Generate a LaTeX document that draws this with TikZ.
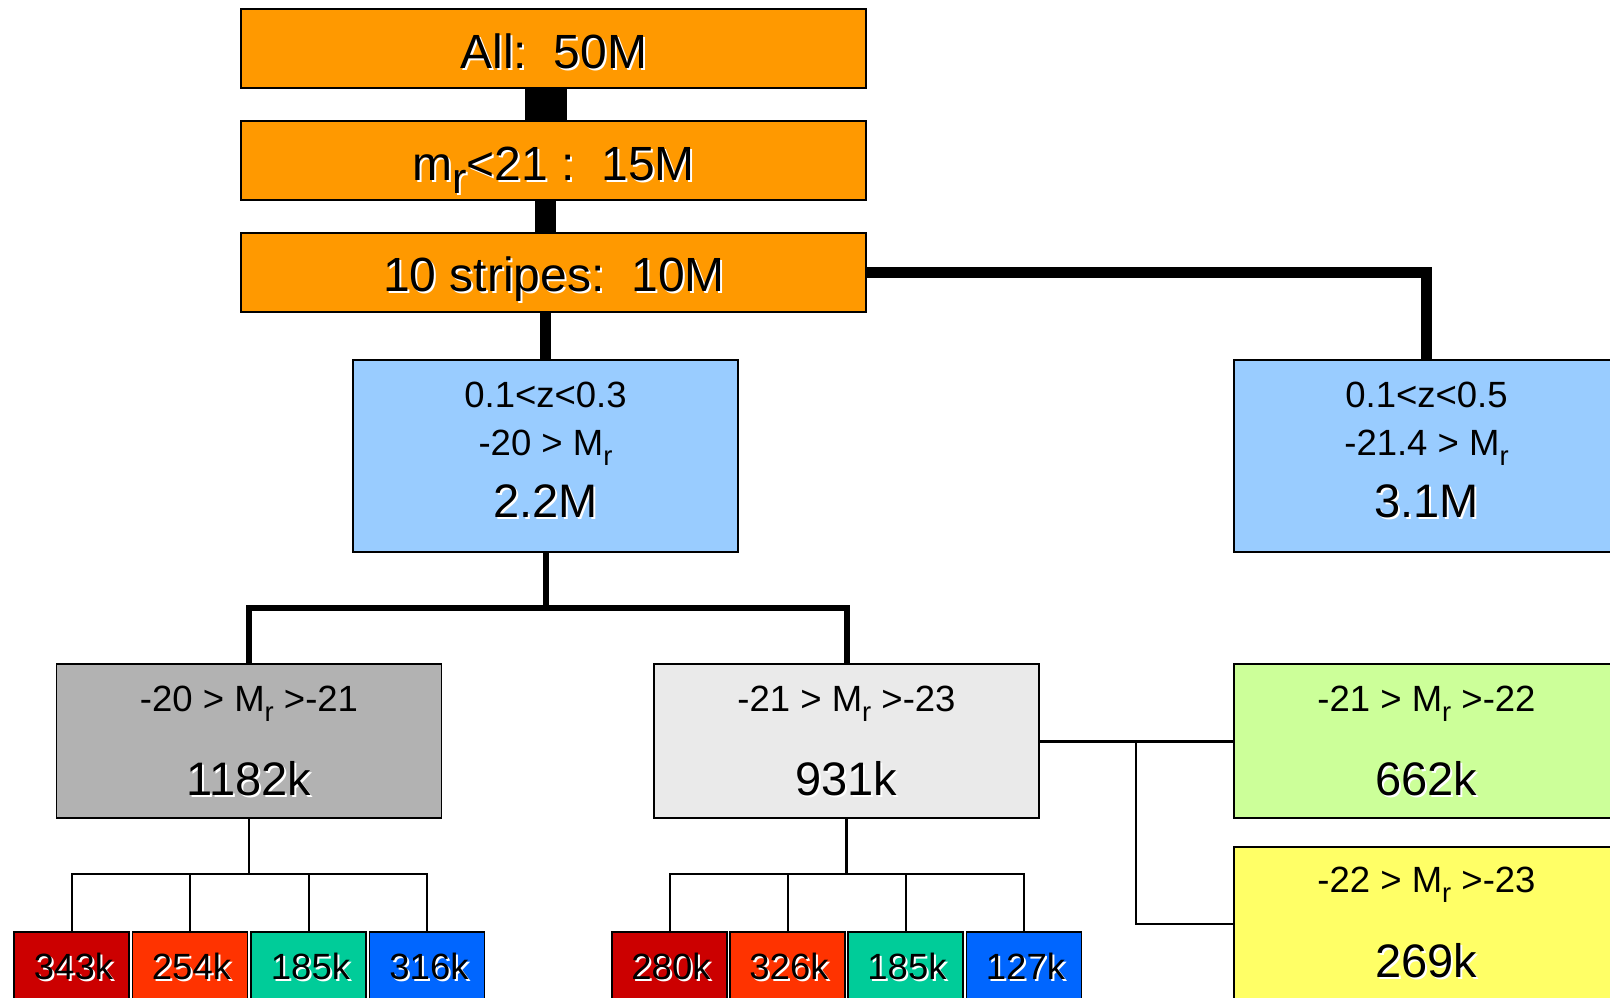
\documentclass[tikz,border=0pt]{standalone}
\usepackage{fontspec}
\usepackage{graphicx}
\setmainfont{Liberation Sans}
\usetikzlibrary{calc}
\definecolor{orng}{HTML}{FF9900}
\definecolor{lblue}{HTML}{99CCFF}
\definecolor{mgray}{HTML}{B2B2B2}
\definecolor{lgray}{HTML}{EAEAEA}
\definecolor{lgreen}{HTML}{CCFF99}
\definecolor{lyellow}{HTML}{FFFF66}
\definecolor{cred}{HTML}{CC0000}
\definecolor{cora}{HTML}{FF3300}
\definecolor{cteal}{HTML}{00CC99}
\definecolor{cblue}{HTML}{0066FF}
\newcommand\shd[1]{\rlap{\kern2pt\raisebox{-2pt}{\color{white}#1}}#1}
\newcommand\subr[1][0.75]{\raisebox{-0.28em}{\scalebox{#1}{r}}}
\tikzset{
  box/.style={draw=black, line width=1.5pt, rectangle, inner sep=0pt, outer sep=0pt},
  bigbox/.style={box, minimum width=385, minimum height=192, fill=lblue},
  midbox/.style={box, minimum width=385, minimum height=154},
  smallbox/.style={box, minimum width=115, minimum height=80},
  fo/.style={font=\fontsize{48}{56}\selectfont, inner sep=0pt, anchor=base},
  fbig/.style={font=\fontsize{47}{55}\selectfont, inner sep=0pt, anchor=base},
  fmid/.style={font=\fontsize{36.5}{42}\selectfont, inner sep=0pt, anchor=base},
  fsm/.style={font=\fontsize{36.5}{42}\selectfont, inner sep=0pt, anchor=base},
  thin/.style={draw=black, line width=2.5pt},
  thinner/.style={draw=black, line width=2pt},
}
\begin{document}
\begin{tikzpicture}[x=1pt,y=-1pt]
\useasboundingbox[fill=white] (0,0) rectangle (1610,997);
% boxes
\node[box, fill=orng, minimum width=625, minimum height=79] (all) at (553.5,48.5) {};
\node[box, fill=orng, minimum width=625, minimum height=79] (mr) at (553.5,160.5) {};
\node[box, fill=orng, minimum width=625, minimum height=79] (stripes) at (553.5,272.5) {};
\node[bigbox] (blueA) at (545.5,456) {};
\node[bigbox] (blueB) at (1426.5,456) {};
\node[midbox, fill=mgray] (grayA) at (249,741) {};
\node[midbox, fill=lgray] (grayB) at (846.5,741) {};
\node[midbox, fill=lgreen] (green) at (1426.5,741) {};
\node[midbox, fill=lyellow] (yellow) at (1426.5,924) {};
\node[smallbox, fill=cred] (s1) at (71.5,972) {};
\node[smallbox, fill=cora] (s2) at (190,972) {};
\node[smallbox, fill=cteal] (s3) at (308.5,972) {};
\node[smallbox, fill=cblue] (s4) at (427,972) {};
\node[smallbox, fill=cred] (s5) at (669.5,972) {};
\node[smallbox, fill=cora] (s6) at (787.5,972) {};
\node[smallbox, fill=cteal] (s7) at (905.5,972) {};
\node[smallbox, fill=cblue] (s8) at (1024,972) {};
% connectors
\draw[line width=42pt] (all.south -| blueA.north) -- (mr.north -| blueA.north);
\draw[line width=21pt] (mr.south -| blueA.north) -- (stripes.north -| blueA.north);
\draw[line width=11pt] (stripes.south -| blueA.north) -- (blueA.north);
\draw[line width=11pt] (stripes.east) -| (blueB.north);
\coordinate (jA) at ($(blueA.south)+(0,56)$);
\draw[line width=6pt] (blueA.south) -- (jA);
\draw[line width=6pt] (grayA.north) -- (grayA.north |- jA) -- (grayB.north |- jA) -- (grayB.north);
\coordinate (jB) at ($(grayA.south)+(0,56)$);
\draw[thin] (grayA.south) -- (jB);
\draw[thinner] (s1.north) -- (s1.north |- jB) -- (s4.north |- jB) -- (s4.north);
\draw[thinner] (s2.north) -- (s2.north |- jB);
\draw[thinner] (s3.north) -- (s3.north |- jB);
\coordinate (jC) at ($(grayB.south)+(0,56)$);
\draw[thin] (grayB.south) -- (jC);
\draw[thinner] (s5.north) -- (s5.north |- jC) -- (s8.north |- jC) -- (s8.north);
\draw[thinner] (s6.north) -- (s6.north |- jC);
\draw[thinner] (s7.north) -- (s7.north |- jC);
\draw[line width=3pt] (grayB.east) -- (green.west);
\coordinate (jD) at (1136,741);
\draw[thin] (jD) |- (yellow.west);
% labels
\node[fo] (tall) at (554,68) {\shd{All:~~50M}};
\node[fo] (tmr) at (553.5,180) {\shd{m\subr[0.9]<21 :~~15M}};
\node[fo] (tstr) at (554,291) {\shd{10 stripes:~~10M}};
\node[fmid] (ba1) at (545.5,407) {0.1<z<0.3};
\node[fmid] (ba2) at (545.5,455) {-20 > M\subr};
\node[fbig] (ba3) at (545.5,517) {\shd{2.2M}};
\node[fmid] (bb1) at (1426.5,407) {0.1<z<0.5};
\node[fmid] (bb2) at (1426.5,455) {-21.4 > M\subr};
\node[fbig] (bb3) at (1426.5,517) {\shd{3.1M}};
\node[fmid] (ga1) at (249,711) {-20 > M\subr{} >-21};
\node[fbig] (ga2) at (249,795) {\shd{1182k}};
\node[fmid] (gb1) at (846.5,711) {-21 > M\subr{} >-23};
\node[fbig] (gb2) at (846.5,795) {\shd{931k}};
\node[fmid] (gr1) at (1426.5,711) {-21 > M\subr{} >-22};
\node[fbig] (gr2) at (1426.5,795) {\shd{662k}};
\node[fmid] (ye1) at (1426.5,892) {-22 > M\subr{} >-23};
\node[fbig] (ye2) at (1426.5,977) {\shd{269k}};
\node[fsm] (ts1) at (73.5,979) {\shd{343k}};
\node[fsm] (ts2) at (191.5,979) {\shd{254k}};
\node[fsm] (ts3) at (310.5,979) {\shd{185k}};
\node[fsm] (ts4) at (429,979) {\shd{316k}};
\node[fsm] (ts5) at (671,979) {\shd{280k}};
\node[fsm] (ts6) at (789,979) {\shd{326k}};
\node[fsm] (ts7) at (907,979) {\shd{185k}};
\node[fsm] (ts8) at (1025.5,979) {\shd{127k}};
\end{tikzpicture}
\end{document}
